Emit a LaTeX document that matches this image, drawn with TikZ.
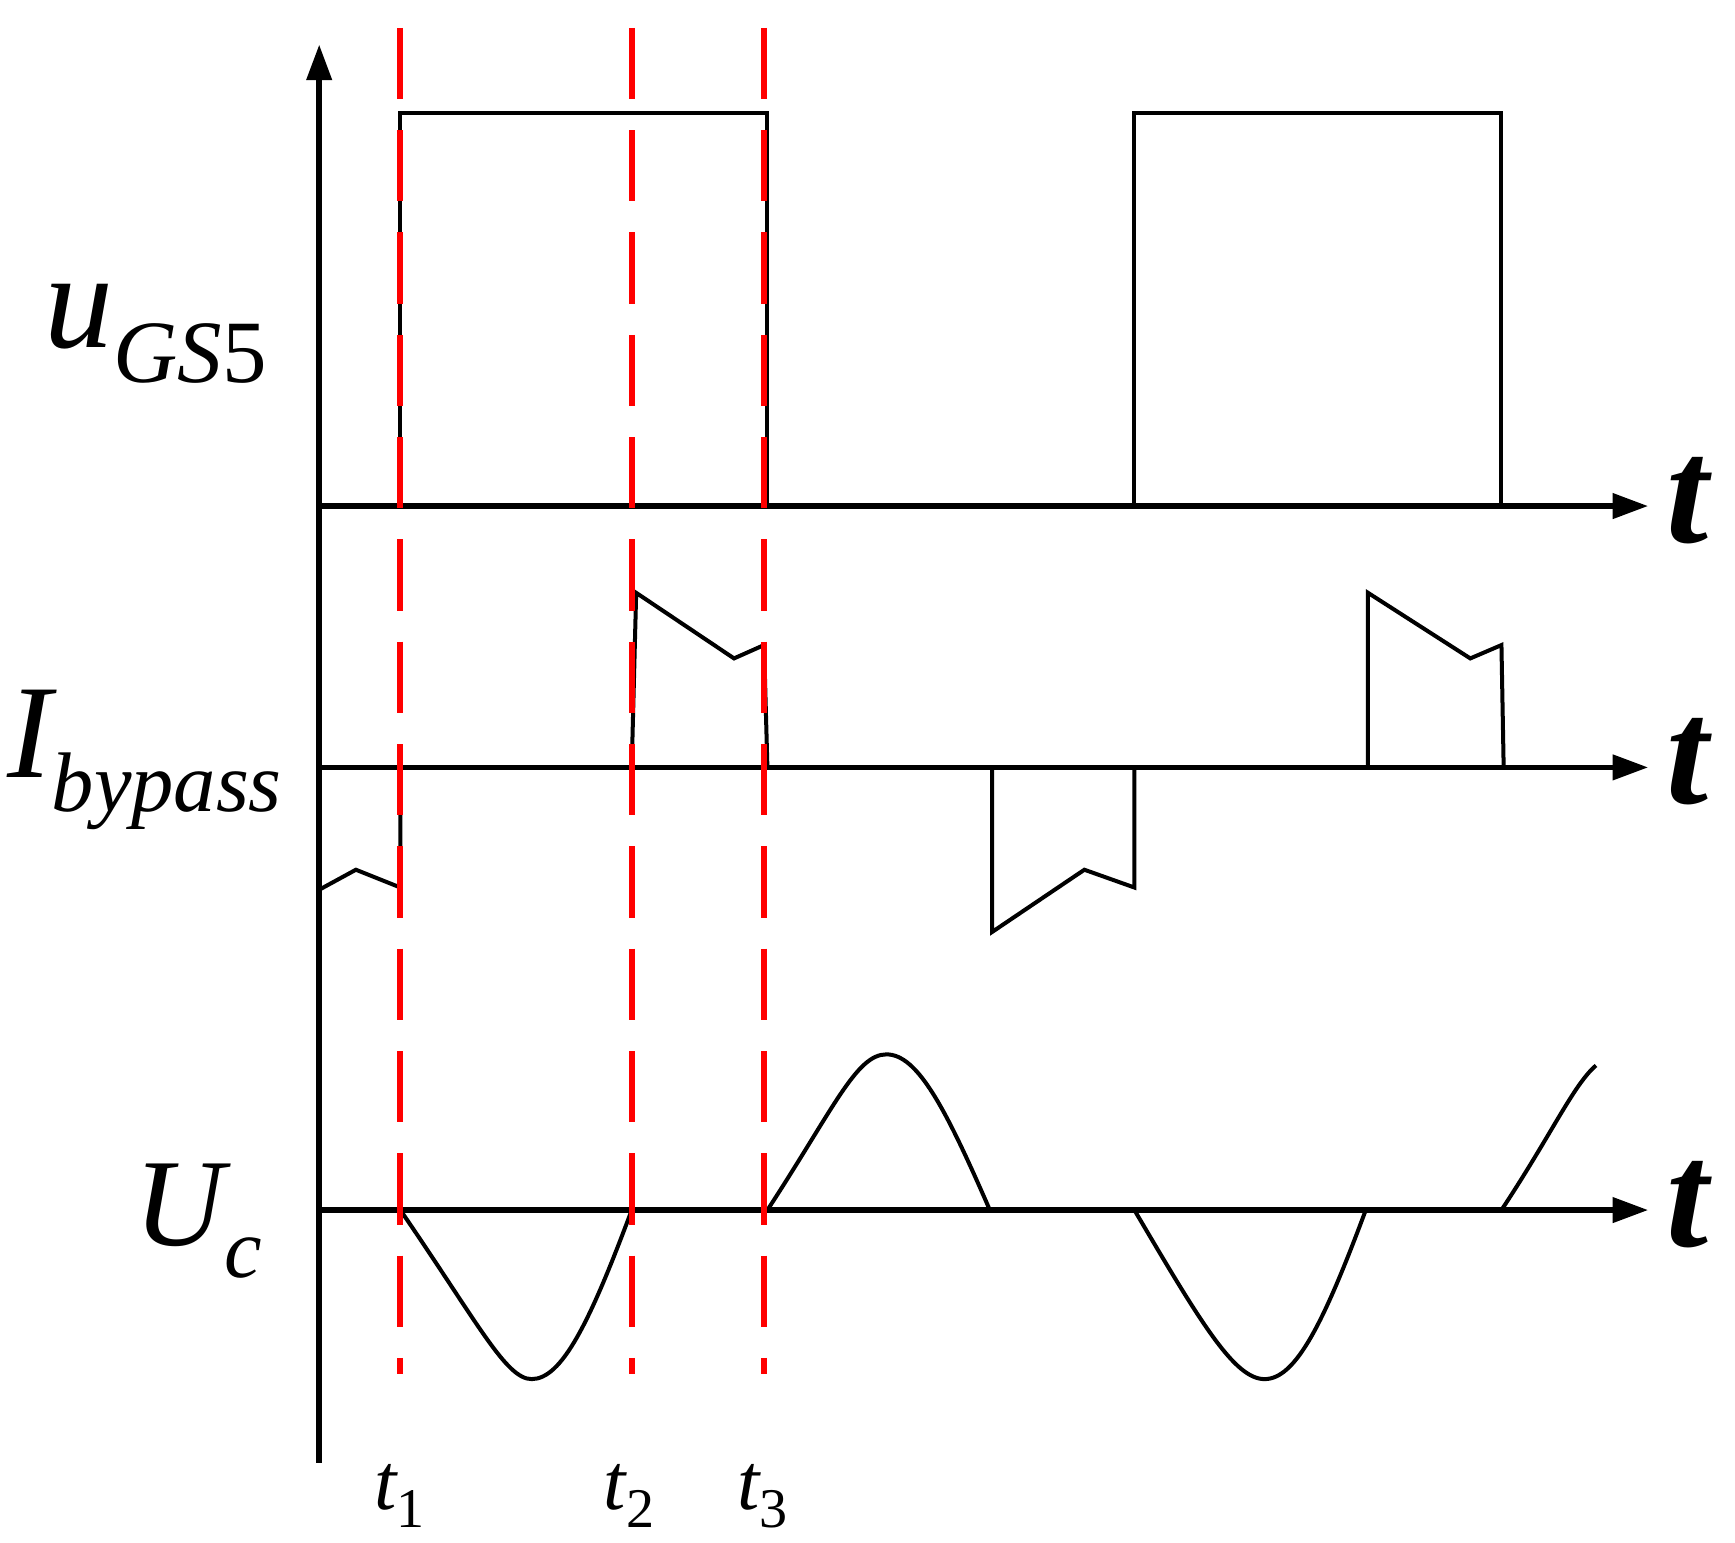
\documentclass[tikz,border=0pt]{standalone}
\usepackage{fontspec}
\setmainfont{Liberation Serif}
\usetikzlibrary{arrows.meta}
\begin{document}
\begin{tikzpicture}[x=0.5pt,y=-0.5pt,
  ax/.style={line width=2.6pt,-{Triangle[length=16pt,width=11pt]}},
  sig/.style={line width=1.8pt,line join=miter},
  red/.style={draw=red,line width=2.6pt,dash pattern=on 32pt off 14pt},
  tl/.style={font=\fontsize{68}{70}\selectfont\bfseries\itshape,inner sep=0},
  lab/.style={inner sep=0}]
\useasboundingbox (0,0) rectangle (1560,1387);
% axes
\coordinate (o) at (287,1315);
\coordinate (top) at (287,40);
\draw[ax] (o) -- (top);
\foreach \y/\n in {455/a,690/b,1088/c}{
  \coordinate (s\n) at (287,\y);
  \coordinate (e\n) at (1482,\y);
  \draw[ax] (s\n) -- (e\n);
  \node[tl] (t\n) at (1517,\y-5) {t};
}
% uGS5
\draw[sig] (360,455) -- (360,102) -- (690,102) -- (690,455);
\draw[sig] (1020,455) -- (1020,102) -- (1350,102) -- (1350,455);
% Ibypass
\draw[sig] (568,690) -- (572,533) -- (660,592) -- (687,580) -- (690,690);
\draw[sig] (1230,690) -- (1230,533) -- (1322,592) -- (1350,580) -- (1352,690);
\draw[sig] (287,800) -- (320,782) -- (360,798) -- (360,690);
\draw[sig] (892,690) -- (892,838) -- (975,782) -- (1020,798) -- (1020,690);
% Uc
\draw[sig] (360,1088) .. controls (430,1190) and (455,1240) .. (478,1240)
  .. controls (505,1240) and (530,1190) .. (568,1088);
\draw[sig] (690,1088) .. controls (750,996) and (770,948) .. (797,948)
  .. controls (825,948) and (850,996) .. (890,1088);
\draw[sig] (1020,1088) .. controls (1080,1190) and (1110,1240) .. (1137,1240)
  .. controls (1165,1240) and (1190,1190) .. (1228,1088);
\draw[sig] (1350,1088) .. controls (1395,1020) and (1415,975) .. (1435,958);
% red dashed
\foreach \x/\n in {360/1,568/2,687/3}{
  \coordinate (r\n a) at (\x,25);
  \coordinate (r\n b) at (\x,1235);
  \draw[red] (r\n a) -- (r\n b);
}
\node[lab] (l1) at (360,1345) {\fontsize{36}{38}\selectfont\itshape t\textsubscript{\upshape 1}};
\node[lab] (l2) at (566,1345) {\fontsize{36}{38}\selectfont\itshape t\textsubscript{\upshape 2}};
\node[lab] (l3) at (686,1345) {\fontsize{36}{38}\selectfont\itshape t\textsubscript{\upshape 3}};
% signal labels
\node[lab] (u) at (140,300) {\fontsize{62}{64}\selectfont\itshape u\raisebox{-0.55ex}{\fontsize{40}{42}\selectfont GS\upshape 5}};
\node[lab] (i) at (130,683) {\fontsize{60}{62}\selectfont\itshape I\raisebox{-0.55ex}{\fontsize{38}{40}\selectfont bypass}};
\node[lab] (uc) at (178,1098) {\fontsize{56}{58}\selectfont\itshape U\raisebox{-0.55ex}{\fontsize{38}{40}\selectfont c}};
\end{tikzpicture}
\end{document}
